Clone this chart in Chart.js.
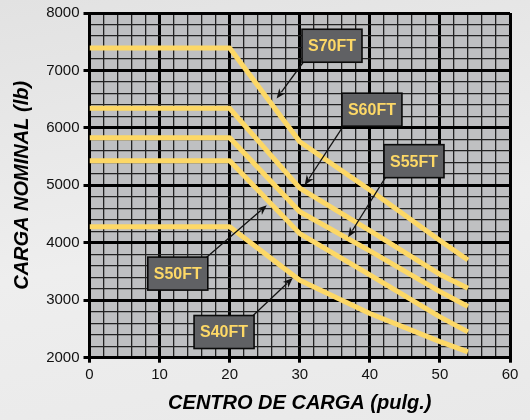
<!DOCTYPE html>
<html>
<head>
<meta charset="utf-8">
<script src="https://cdn.jsdelivr.net/npm/chart.js@4/dist/chart.umd.min.js"></script>
<style>
  html, body { margin: 0; padding: 0; }
  body { width: 530px; height: 420px; background: linear-gradient(170deg, #e2e2e2 0%, #eeeeee 55%, #e9e9e9 100%); }
  #wrap { position: relative; width: 530px; height: 420px; }
</style>
</head>
<body>
<div id="wrap"><canvas id="chart" width="530" height="420"></canvas></div>
<script>
// load centre (pulg.) and rated load (lb)
var centros = [0, 20, 30, 40, 50, 54];
var s70ft = [7390, 7390, 5760, 4920, 4040, 3700];
var s60ft = [6340, 6340, 4950, 4210, 3450, 3210];
var s55ft = [5830, 5830, 4540, 3860, 3150, 2890];
var s50ft = [5430, 5430, 4160, 3440, 2710, 2450];
var s40ft = [4280, 4280, 3350, 2770, 2280, 2100];

var series = [s70ft, s60ft, s55ft, s50ft, s40ft];

// callout boxes: name, box centre (x, y) and arrow tip (x, y) in data units
var etiquetas = ['S70FT', 'S60FT', 'S55FT', 'S50FT', 'S40FT'];
var cajaX = [34.6, 40.3, 46.3, 12.6, 19.2];
var cajaY = [7430, 6317, 5421, 3464, 2447];
var puntaX = [26.7, 30.7, 36.9, 25.3, 29.0];
var puntaY = [6510, 5003, 4096, 4652, 3386];

var amarillo = '#fdd866';

var toPoints = function (ys) {
    return ys.map(function (v, i) { return { x: centros[i], y: v }; });
};

var plotBg = {
    id: 'plotBg',
    beforeDraw: function (chart) {
        var a = chart.chartArea, ctx = chart.ctx;
        ctx.save();
        ctx.fillStyle = '#bfc0c2';
        ctx.fillRect(a.left, a.top, a.right - a.left, a.bottom - a.top);
        ctx.restore();
    }
};

var callouts = {
    id: 'callouts',
    afterDatasetsDraw: function (chart) {
        var ctx = chart.ctx, sx = chart.scales.x, sy = chart.scales.y;
        var w = 60, h = 33;
        ctx.save();
        for (var i = 0; i < etiquetas.length; i++) {
            var cx = sx.getPixelForValue(cajaX[i]);
            var cy = sy.getPixelForValue(cajaY[i]);
            var tx = sx.getPixelForValue(puntaX[i]);
            var ty = sy.getPixelForValue(puntaY[i]);
            // arrow starts at the box corner nearest to the tip
            var fx = tx < cx ? cx - w / 2 + 2 : cx + w / 2 - 2;
            var fy = ty > cy ? cy + h / 2 - 1 : cy - h / 2 + 1;
            var ang = Math.atan2(ty - fy, tx - fx);
            var hl = 10, hw = 4;
            ctx.strokeStyle = '#111';
            ctx.lineWidth = 1.3;
            ctx.beginPath();
            ctx.moveTo(fx, fy);
            ctx.lineTo(tx - Math.cos(ang) * hl * 0.8, ty - Math.sin(ang) * hl * 0.8);
            ctx.stroke();
            ctx.fillStyle = '#111';
            ctx.beginPath();
            ctx.moveTo(tx, ty);
            ctx.lineTo(tx - Math.cos(ang) * hl - Math.sin(ang) * hw, ty - Math.sin(ang) * hl + Math.cos(ang) * hw);
            ctx.lineTo(tx - Math.cos(ang) * hl * 0.7, ty - Math.sin(ang) * hl * 0.7);
            ctx.lineTo(tx - Math.cos(ang) * hl + Math.sin(ang) * hw, ty - Math.sin(ang) * hl - Math.cos(ang) * hw);
            ctx.closePath();
            ctx.fill();

            ctx.fillStyle = '#606164';
            ctx.fillRect(cx - w / 2, cy - h / 2, w, h);
            ctx.strokeStyle = '#0a0a0a';
            ctx.lineWidth = 1.6;
            ctx.strokeRect(cx - w / 2, cy - h / 2, w, h);
            ctx.fillStyle = amarillo;
            ctx.font = 'bold 16px "Liberation Sans Narrow", "Arial Narrow", sans-serif';
            ctx.textAlign = 'center';
            ctx.textBaseline = 'middle';
            ctx.fillText(etiquetas[i], cx, cy + 1);
        }
        ctx.restore();
    }
};

var ctx = document.getElementById('chart').getContext('2d');
var chart = new Chart(ctx, {
    type: 'line',
    data: {
        datasets: series.map(function (s, i) {
            return {
                label: etiquetas[i],
                data: toPoints(s),
                borderColor: amarillo,
                borderWidth: 5,
                borderJoinStyle: 'round',
                borderCapStyle: 'butt',
                pointRadius: 0,
                tension: 0,
                fill: false
            };
        })
    },
    options: {
        responsive: false,
        animation: false,
        layout: { padding: { left: 0, right: 20, top: 13, bottom: 0 } },
        plugins: { legend: { display: false }, tooltip: { enabled: false } },
        scales: {
            x: {
                type: 'linear',
                min: 0,
                max: 60,
                afterFit: function (scale) { scale.height = 62.3; },
                border: { display: true, color: '#000', width: 3 },
                grid: {
                    color: function (c) { return c.tick && c.tick.value % 10 === 0 ? '#000' : '#222'; },
                    lineWidth: function (c) { return c.tick && c.tick.value % 10 === 0 ? 3 : 1.3; },
                    tickColor: function (c) { return c.tick && c.tick.value % 10 === 0 ? '#000' : 'rgba(0,0,0,0)'; },
                    tickLength: 5
                },
                ticks: {
                    stepSize: 2,
                    autoSkip: false,
                    maxRotation: 0,
                    padding: 3,
                    color: '#111',
                    font: { family: '"Liberation Sans", Arial, sans-serif', size: 15 },
                    callback: function (v) { return v % 10 === 0 ? v : ''; }
                },
                title: {
                    display: true,
                    text: 'CENTRO DE CARGA (pulg.)',
                    color: '#000',
                    font: { family: '"Liberation Sans Narrow", "Arial Narrow", sans-serif', size: 20, weight: 'bold', style: 'italic' },
                    padding: { top: 0, bottom: 5 }
                }
            },
            y: {
                min: 2000,
                max: 8000,
                afterFit: function (scale) { scale.width = 89.5; },
                border: { display: true, color: '#000', width: 3 },
                grid: {
                    color: function (c) { return c.tick && c.tick.value % 1000 === 0 ? '#000' : '#222'; },
                    lineWidth: function (c) { return c.tick && c.tick.value % 1000 === 0 ? 3 : 1.3; },
                    tickColor: function (c) { return c.tick && c.tick.value % 1000 === 0 ? '#000' : 'rgba(0,0,0,0)'; },
                    tickLength: 6
                },
                ticks: {
                    stepSize: 200,
                    autoSkip: false,
                    padding: 4,
                    color: '#111',
                    font: { family: '"Liberation Sans", Arial, sans-serif', size: 15 },
                    callback: function (v) { return v % 1000 === 0 ? v : ''; }
                },
                title: {
                    display: true,
                    text: 'CARGA NOMINAL (lb)',
                    color: '#000',
                    font: { family: '"Liberation Sans Narrow", "Arial Narrow", sans-serif', size: 20, weight: 'bold', style: 'italic' },
                    padding: { top: 10, bottom: 0 }
                }
            }
        }
    },
    plugins: [plotBg, callouts]
});
</script>
</body>
</html>
